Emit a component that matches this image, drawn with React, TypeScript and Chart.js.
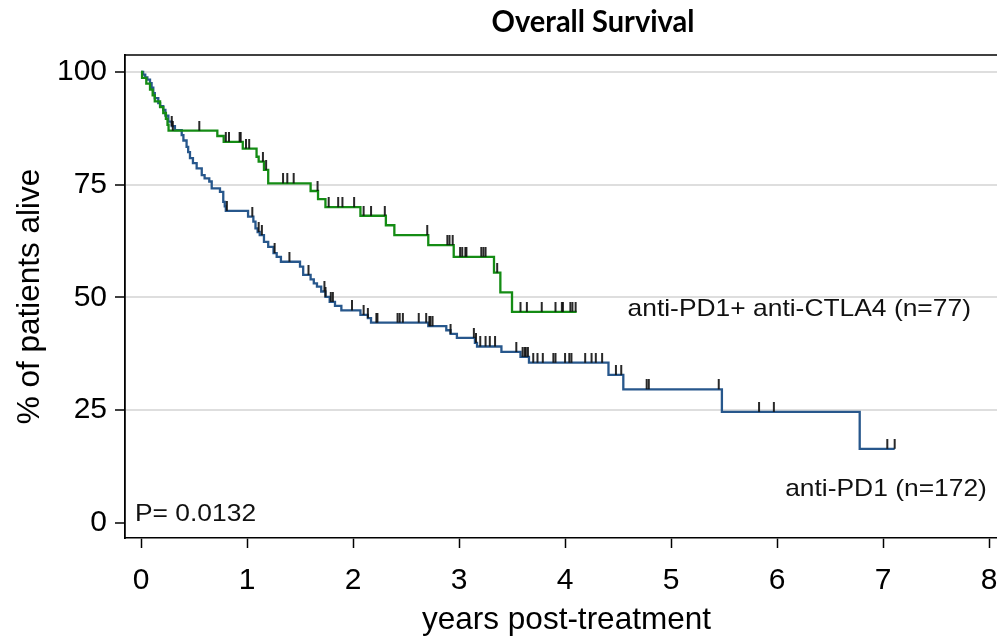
import React, { useEffect, useRef } from "react";
import { Chart, registerables } from "chart.js";

Chart.register(...registerables);

// ---------- data ----------
const comboTimes = [0, 0.01, 0.05, 0.085, 0.11, 0.13, 0.18, 0.21, 0.235, 0.25, 0.26, 0.72, 0.78, 0.96, 1.09, 1.11, 1.16, 1.2, 1.6, 1.67, 1.74, 2.07, 2.31, 2.39, 2.71, 2.95, 3.33, 3.39, 3.5, 4.11];
const comboSurv = [100, 98.7, 97.4, 96.1, 94.8, 93.5, 92.2, 90.9, 89.6, 88.3, 87.0, 85.8, 84.5, 83.0, 81.2, 80.1, 78.3, 75.3, 73.6, 71.8, 70.0, 68.1, 66.0, 63.8, 61.6, 59.0, 55.5, 51.1, 46.8, 46.8];
const comboCensor = [0.3, 0.55, 0.8, 0.83, 0.93, 0.94, 0.99, 1.02, 1.15, 1.18, 1.34, 1.38, 1.44, 1.665, 1.77, 1.86, 1.9, 2.01, 2.1, 2.17, 2.3, 2.7, 2.89, 2.91, 2.94, 3.01, 3.03, 3.06, 3.07, 3.21, 3.23, 3.25, 3.36, 3.58, 3.64, 3.78, 3.91, 3.97, 3.98, 4.05, 4.07, 4.1];

const pd1Times = [0, 0.02, 0.04, 0.06, 0.085, 0.1, 0.116, 0.13, 0.163, 0.18, 0.21, 0.23, 0.258, 0.29, 0.32, 0.384, 0.4, 0.43, 0.445, 0.462, 0.49, 0.525, 0.573, 0.6, 0.644, 0.667, 0.745, 0.776, 0.79, 0.8, 1.01, 1.06, 1.08, 1.1, 1.12, 1.16, 1.2, 1.25, 1.28, 1.32, 1.5, 1.53, 1.6, 1.63, 1.66, 1.7, 1.74, 1.78, 1.83, 1.89, 2.07, 2.14, 2.17, 2.71, 2.88, 2.92, 2.98, 3.15, 3.17, 3.4, 3.58, 3.66, 4.41, 4.55, 5.48, 6.78, 7.11];
const pd1Surv = [100, 99.4, 98.8, 98.3, 97.5, 96.5, 95.3, 94.2, 93.1, 92.4, 91.6, 90.3, 89.0, 88.0, 87.1, 86.0, 84.8, 83.4, 82.2, 80.9, 79.8, 78.6, 77.1, 76.4, 75.7, 74.2, 73.4, 71.2, 70.2, 69.2, 67.9, 66.8, 65.3, 64.5, 63.8, 62.3, 61.2, 59.8, 59.0, 57.9, 56.8, 55.0, 54.0, 53.1, 52.4, 51.3, 50.1, 49.0, 48.1, 47.1, 46.1, 45.4, 44.4, 43.6, 42.7, 41.9, 41.0, 39.9, 39.1, 37.9, 36.8, 35.5, 32.8, 29.6, 24.6, 16.4, 16.4];
const pd1Censor = [0.29, 0.81, 1.05, 1.11, 1.14, 1.26, 1.4, 1.58, 1.73, 1.74, 1.79, 1.81, 1.99, 2.1, 2.14, 2.22, 2.23, 2.42, 2.44, 2.47, 2.62, 2.69, 2.72, 2.73, 2.75, 2.92, 3.14, 3.16, 3.2, 3.25, 3.29, 3.34, 3.54, 3.6, 3.62, 3.63, 3.65, 3.7, 3.74, 3.79, 3.89, 3.91, 4.0, 4.04, 4.06, 4.19, 4.25, 4.29, 4.35, 4.48, 4.53, 4.77, 4.79, 5.45, 5.83, 5.97, 7.04, 7.11];

const xTickValues = [0, 1, 2, 3, 4, 5, 6, 7, 8];
const yTickValues = [0, 25, 50, 75, 100];

const titleText = "Overall Survival";
const xTitleText = "years post-treatment";
const yTitleText = "% of patients alive";
const comboLabel = "anti-PD1+ anti-CTLA4 (n=77)";
const pd1Label = "anti-PD1 (n=172)";
const pValueLabel = "P= 0.0132";

// ---------- layout / style ----------
const VIEW_W = 997;
const VIEW_H = 639;
const CANVAS_W = 1030;
const SANS = "'Liberation Sans', Arial, sans-serif";
const NOTE_STRETCH = 1.1;

const GREEN = "#148c14";
const BLUE = "#27578c";

function levelAt(times: number[], surv: number[], t: number): number {
  let v = surv[0];
  for (let i = 0; i < times.length; i++) {
    if (times[i] <= t) v = surv[i];
  }
  return v;
}

function makeCensorMark(): HTMLCanvasElement {
  const c = document.createElement("canvas");
  c.width = 4;
  c.height = 20;
  const g = c.getContext("2d")!;
  g.strokeStyle = "#111";
  g.lineWidth = 1.8;
  g.beginPath();
  g.moveTo(2, 0);
  g.lineTo(2, 10);
  g.stroke();
  return c;
}

function drawStretched(ctx: CanvasRenderingContext2D, text: string, x: number, y: number, align: "left" | "right") {
  ctx.save();
  ctx.translate(x, y);
  ctx.scale(NOTE_STRETCH, 1);
  ctx.textAlign = align;
  ctx.fillText(text, 0, 0);
  ctx.restore();
}

const decorPlugin = {
  id: "decor",
  afterDraw(chart: any) {
    const { ctx, chartArea, scales } = chart;
    ctx.save();
    ctx.strokeStyle = "#000";
    ctx.lineWidth = 1.6;
    ctx.beginPath();
    ctx.moveTo(chartArea.left, chartArea.top);
    ctx.lineTo(chartArea.right, chartArea.top);
    ctx.stroke();

    // chart title (bold face squeezed to the reference width)
    ctx.fillStyle = "#000";
    ctx.textBaseline = "middle";
    ctx.font = "bold 30px Lato, 'Open Sans', sans-serif";
    const w = ctx.measureText(titleText).width;
    ctx.save();
    ctx.translate(593, 22);
    ctx.scale(203 / w, 1);
    ctx.textAlign = "center";
    ctx.fillText(titleText, 0, 0);
    ctx.restore();

    // in-plot notes
    ctx.font = `24px ${SANS}`;
    ctx.fillStyle = "#111";
    drawStretched(ctx, comboLabel, scales.x.getPixelForValue(4.59), scales.y.getPixelForValue(47.4), "left");
    drawStretched(ctx, pd1Label, scales.x.getPixelForValue(7.98), scales.y.getPixelForValue(7.3), "right");
    drawStretched(ctx, pValueLabel, scales.x.getPixelForValue(-0.057), scales.y.getPixelForValue(1.9), "left");
    ctx.restore();
  },
};

export default function App() {
  const ref = useRef<HTMLCanvasElement | null>(null);

  useEffect(() => {
    if (!ref.current) return;
    const mark = makeCensorMark();
    const chart = new Chart(ref.current, {
      type: "line",
      data: {
        datasets: [
          {
            label: "combo censored",
            type: "scatter",
            data: comboCensor.map((t) => ({ x: t, y: levelAt(comboTimes, comboSurv, t) })),
            pointStyle: mark as any,
            pointRadius: 3,
            showLine: false,
          },
          {
            label: "pd1 censored",
            type: "scatter",
            data: pd1Censor.map((t) => ({ x: t, y: levelAt(pd1Times, pd1Surv, t) })),
            pointStyle: mark as any,
            pointRadius: 3,
            showLine: false,
          },
          {
            label: comboLabel,
            data: comboTimes.map((t, i) => ({ x: t, y: comboSurv[i] })),
            stepped: "before",
            borderColor: GREEN,
            borderWidth: 2.3,
            pointRadius: 0,
            fill: false,
          },
          {
            label: pd1Label,
            data: pd1Times.map((t, i) => ({ x: t, y: pd1Surv[i] })),
            stepped: "before",
            borderColor: BLUE,
            borderWidth: 2.3,
            pointRadius: 0,
            fill: false,
          },
        ],
      },
      options: {
        animation: false,
        responsive: false,
        layout: { padding: { top: 55, right: 22, left: 0, bottom: 0 } },
        plugins: {
          legend: { display: false },
          tooltip: { enabled: false },
          title: { display: false },
        },
        scales: {
          x: {
            type: "linear",
            min: -0.151,
            max: 8.179,
            afterBuildTicks: (s: any) => {
              s.ticks = xTickValues.map((v) => ({ value: v }));
            },
            afterFit: (s: any) => {
              s.height = 101;
            },
            grid: {
              drawOnChartArea: false,
              drawTicks: true,
              tickLength: 10,
              tickColor: "#000",
              tickWidth: 1.5,
            },
            border: { display: true, color: "#000", width: 1.6 },
            ticks: {
              color: "#000",
              font: { family: SANS, size: 30 },
              padding: 15,
              maxRotation: 0,
              autoSkip: false,
            },
            title: {
              display: true,
              text: xTitleText,
              color: "#000",
              font: { family: SANS, size: 31.5 },
              padding: { top: 0, bottom: 0 },
            },
          },
          y: {
            type: "linear",
            min: -3.39,
            max: 103.77,
            afterBuildTicks: (s: any) => {
              s.ticks = yTickValues.map((v) => ({ value: v }));
            },
            afterFit: (s: any) => {
              s.width = 125;
            },
            grid: {
              drawOnChartArea: true,
              color: (c: any) => (c.tick && c.tick.value === 0 ? "rgba(0,0,0,0)" : "#dedede"),
              lineWidth: 2,
              tickColor: "#000",
              tickLength: 10,
              tickWidth: 1.5,
            },
            border: { display: true, color: "#000", width: 1.8 },
            ticks: {
              color: "#000",
              font: { family: SANS, size: 30 },
              padding: 8,
              autoSkip: false,
            },
            title: {
              display: true,
              text: yTitleText,
              color: "#000",
              font: { family: SANS, size: 31.5 },
              padding: { top: 11, bottom: 0 },
            },
          },
        },
      },
      plugins: [decorPlugin],
    } as any);
    return () => chart.destroy();
  }, []);

  return (
    <div
      style={{
        position: "fixed",
        left: 0,
        top: 0,
        width: VIEW_W,
        height: VIEW_H,
        overflow: "hidden",
        background: "#fff",
      }}
    >
      <canvas
        ref={ref}
        width={CANVAS_W}
        height={VIEW_H}
        style={{ display: "block", width: `${CANVAS_W}px`, height: `${VIEW_H}px` }}
      />
    </div>
  );
}
